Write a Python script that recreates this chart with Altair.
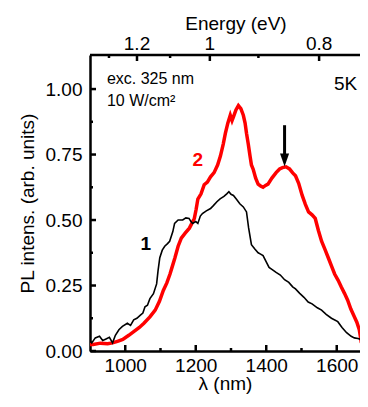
import altair as alt
import pandas as pd

# ---- data ----
black_wl = [900, 905, 915, 927, 936, 944, 955, 964, 972, 982, 992, 1006, 1015, 1024, 1033, 1043, 1050,
            1056, 1063, 1070, 1080, 1089, 1093, 1098, 1105, 1112, 1120, 1126, 1135, 1140, 1150, 1163,
            1172, 1181, 1186, 1191, 1200, 1206, 1213, 1219, 1230, 1242, 1250, 1260, 1269, 1280, 1288,
            1294, 1300, 1307, 1315, 1325, 1335, 1344, 1350, 1358, 1367, 1377, 1384, 1391, 1400, 1408,
            1418, 1428, 1440, 1452, 1464, 1475, 1483, 1495, 1507, 1519, 1530, 1545, 1557, 1570, 1585,
            1603, 1615, 1628, 1641, 1650, 1660, 1669]
black_int = [0.040, 0.031, 0.050, 0.056, 0.040, 0.045, 0.052, 0.031, 0.060, 0.081, 0.094, 0.106, 0.098,
             0.119, 0.125, 0.137, 0.145, 0.169, 0.175, 0.200, 0.219, 0.256, 0.306, 0.356, 0.385, 0.400,
             0.410, 0.419, 0.456, 0.487, 0.500, 0.500, 0.508, 0.506, 0.495, 0.487, 0.494, 0.487, 0.515,
             0.525, 0.535, 0.544, 0.555, 0.570, 0.581, 0.590, 0.600, 0.608, 0.598, 0.594, 0.580, 0.562,
             0.550, 0.531, 0.470, 0.406, 0.390, 0.375, 0.370, 0.364, 0.340, 0.319, 0.310, 0.300, 0.290,
             0.272, 0.262, 0.245, 0.237, 0.220, 0.205, 0.187, 0.180, 0.165, 0.156, 0.140, 0.125, 0.112,
             0.090, 0.070, 0.056, 0.050, 0.048, 0.044]

red_wl = [900, 909, 930, 950, 964, 980, 993, 1010, 1025, 1040, 1053, 1070, 1085, 1097, 1108, 1118, 1127,
          1134, 1141, 1150, 1159, 1170, 1182, 1190, 1196, 1201, 1206, 1215, 1224, 1233, 1242, 1252, 1262,
          1270, 1278, 1284, 1291, 1298, 1303, 1307, 1314, 1321, 1328, 1335, 1340, 1344, 1349, 1354, 1358,
          1363, 1370, 1377, 1384, 1391, 1398, 1405, 1416, 1428, 1438, 1446, 1456, 1466, 1475, 1483, 1492,
          1502, 1511, 1520, 1530, 1539, 1548, 1557, 1566, 1576, 1585, 1594, 1604, 1613, 1622, 1631, 1640,
          1650, 1657, 1664, 1670]
red_int = [0.025, 0.025, 0.030, 0.028, 0.031, 0.038, 0.044, 0.060, 0.075, 0.090, 0.106, 0.130, 0.156,
           0.190, 0.231, 0.260, 0.294, 0.325, 0.356, 0.400, 0.431, 0.450, 0.469, 0.490, 0.506, 0.540,
           0.580, 0.600, 0.635, 0.645, 0.665, 0.681, 0.710, 0.744, 0.790, 0.831, 0.870, 0.900, 0.880,
           0.894, 0.920, 0.937, 0.925, 0.900, 0.870, 0.831, 0.790, 0.744, 0.710, 0.694, 0.660, 0.637,
           0.630, 0.625, 0.632, 0.637, 0.660, 0.681, 0.695, 0.700, 0.703, 0.695, 0.680, 0.669, 0.640,
           0.594, 0.560, 0.531, 0.520, 0.506, 0.460, 0.419, 0.390, 0.356, 0.325, 0.294, 0.270, 0.244,
           0.220, 0.194, 0.160, 0.131, 0.110, 0.081, 0.031]

x_major = [1000, 1200, 1400, 1600]
x_minor = [1100, 1300, 1500]
y_major = [0.0, 0.25, 0.5, 0.75, 1.0]
y_minor = [0.125, 0.375, 0.625, 0.875]
e_major = [1.2, 1.0, 0.8]
e_major_labels = ["1.2", "1", "0.8"]
e_minor = [1.3, 1.1, 0.9]

annot_text = ["exc. 325 nm", "10 W/cm\u00b2"]
annot_wl = [948, 948]
annot_int = [1.038, 0.955]
temp_text = ["5K"]
temp_wl = [1658]
temp_int = [1.019]
curve_labels = ["2", "1"]
curve_label_wl = [1206, 1058]
curve_label_int = [0.729, 0.41]
curve_label_colors = ["#ff0000", "#000000"]
arrow_wl = [1452]
arrow_top = [0.862]
arrow_bottom = [0.74]
arrow_head = [0.729]

# ---- chart ----
W, H = 270, 296
FONT = "Liberation Sans"
xs = alt.Scale(domain=[900, 1666], nice=False, zero=False)
ys = alt.Scale(domain=[0, 1.13], nice=False, zero=False)

red_df = pd.DataFrame({"wl": red_wl, "I": red_int})
black_df = pd.DataFrame({"wl": black_wl, "I": black_int})

red = alt.Chart(red_df).mark_line(color="#ff0000", strokeWidth=3.5, clip=True).encode(
    x=alt.X("wl:Q", scale=xs, axis=alt.Axis(
        values=x_major, format="d", ticks=False, grid=False, domainWidth=2.5, domainColor="black",
        labelFontSize=19, labelColor="black", labelPadding=5, labelFont=FONT,
        title="\u03bb (nm)", titleFontSize=19, titleFontWeight="normal", titleColor="black",
        titleFont=FONT, titleBaseline="alphabetic", titleY=38)),
    y=alt.Y("I:Q", scale=ys, axis=alt.Axis(
        values=y_major, format=".2f", ticks=False, grid=False, domainWidth=2.5, domainColor="black",
        labelFontSize=19, labelColor="black", labelPadding=8, labelFont=FONT,
        title="PL intens. (arb. units)", titleFontSize=19, titleFontWeight="normal",
        titleColor="black", titleFont=FONT, titlePadding=8)),
)
black = alt.Chart(black_df).mark_line(color="black", strokeWidth=1.6, clip=True).encode(
    x=alt.X("wl:Q", scale=xs), y=alt.Y("I:Q", scale=ys))

# inward ticks
xmaj_df = pd.DataFrame({"v": x_major})
xmin_df = pd.DataFrame({"v": x_minor})
ymaj_df = pd.DataFrame({"v": y_major})
ymin_df = pd.DataFrame({"v": y_minor})
emaj_df = pd.DataFrame({"wl": [1240.0 / e for e in e_major], "lab": e_major_labels})
emin_df = pd.DataFrame({"wl": [1240.0 / e for e in e_minor]})

tw = 2.5
bt_maj = alt.Chart(xmaj_df).mark_rule(color="black", strokeWidth=tw).encode(
    x=alt.X("v:Q", scale=xs), y=alt.value(H), y2=alt.value(H - 6))
bt_min = alt.Chart(xmin_df).mark_rule(color="black", strokeWidth=tw).encode(
    x=alt.X("v:Q", scale=xs), y=alt.value(H), y2=alt.value(H - 3))
lt_maj = alt.Chart(ymaj_df).mark_rule(color="black", strokeWidth=tw).encode(
    y=alt.Y("v:Q", scale=ys), x=alt.value(0), x2=alt.value(6))
lt_min = alt.Chart(ymin_df).mark_rule(color="black", strokeWidth=tw).encode(
    y=alt.Y("v:Q", scale=ys), x=alt.value(0), x2=alt.value(3))
tt_maj = alt.Chart(emaj_df).mark_rule(color="black", strokeWidth=tw).encode(
    x=alt.X("wl:Q", scale=xs), y=alt.value(0), y2=alt.value(6))
tt_min = alt.Chart(emin_df).mark_rule(color="black", strokeWidth=tw).encode(
    x=alt.X("wl:Q", scale=xs), y=alt.value(0), y2=alt.value(3))
top_line = alt.Chart(pd.DataFrame({"a": [0]})).mark_rule(color="black", strokeWidth=2.5).encode(
    x=alt.value(0), x2=alt.value(W), y=alt.value(0))
top_labels = alt.Chart(emaj_df).mark_text(fontSize=19, font=FONT, color="black", baseline="middle").encode(
    x=alt.X("wl:Q", scale=xs), y=alt.value(-11), text="lab:N")
top_title = alt.Chart(pd.DataFrame({"t": ["Energy (eV)"]})).mark_text(
    fontSize=19, font=FONT, color="black", baseline="middle").encode(
    x=alt.value(146), y=alt.value(-31), text="t:N")

annot = alt.Chart(pd.DataFrame({"wl": annot_wl, "I": annot_int, "t": annot_text})).mark_text(
    fontSize=16, font=FONT, color="black", align="left", baseline="middle").encode(
    x=alt.X("wl:Q", scale=xs), y=alt.Y("I:Q", scale=ys), text="t:N")
temp = alt.Chart(pd.DataFrame({"wl": temp_wl, "I": temp_int, "t": temp_text})).mark_text(
    fontSize=19, font=FONT, color="black", align="right", baseline="middle").encode(
    x=alt.X("wl:Q", scale=xs), y=alt.Y("I:Q", scale=ys), text="t:N")
clabels = alt.Chart(pd.DataFrame({"wl": curve_label_wl, "I": curve_label_int, "t": curve_labels,
                                  "c": curve_label_colors})).mark_text(
    fontSize=19, font=FONT, fontWeight="bold", align="center", baseline="middle").encode(
    x=alt.X("wl:Q", scale=xs), y=alt.Y("I:Q", scale=ys), text="t:N",
    color=alt.Color("c:N", scale=None))

arrow_df = pd.DataFrame({"wl": arrow_wl, "y1": arrow_top, "y2": arrow_bottom, "yh": arrow_head})
arrow_line = alt.Chart(arrow_df).mark_rule(color="black", strokeWidth=3).encode(
    x=alt.X("wl:Q", scale=xs), y=alt.Y("y1:Q", scale=ys), y2="y2:Q")
arrow_tip = alt.Chart(arrow_df).mark_point(
    shape="M-0.7,-1L0.7,-1L0,1Z", filled=True, color="black", size=169, opacity=1, strokeWidth=0).encode(
    x=alt.X("wl:Q", scale=xs), y=alt.Y("yh:Q", scale=ys))

chart = alt.layer(
    red, black, bt_maj, bt_min, lt_maj, lt_min, tt_maj, tt_min, top_line, top_labels, top_title,
    annot, temp, clabels, arrow_line, arrow_tip
).properties(
    width=W, height=H,
    autosize=alt.AutoSizeParams(type="none"),
    padding={"left": 82, "top": 47, "right": 0, "bottom": 43},
).configure_view(stroke=None).configure(font=FONT, background="white")

chart.save("out.html", embed_options={"renderer": "svg", "actions": False})
